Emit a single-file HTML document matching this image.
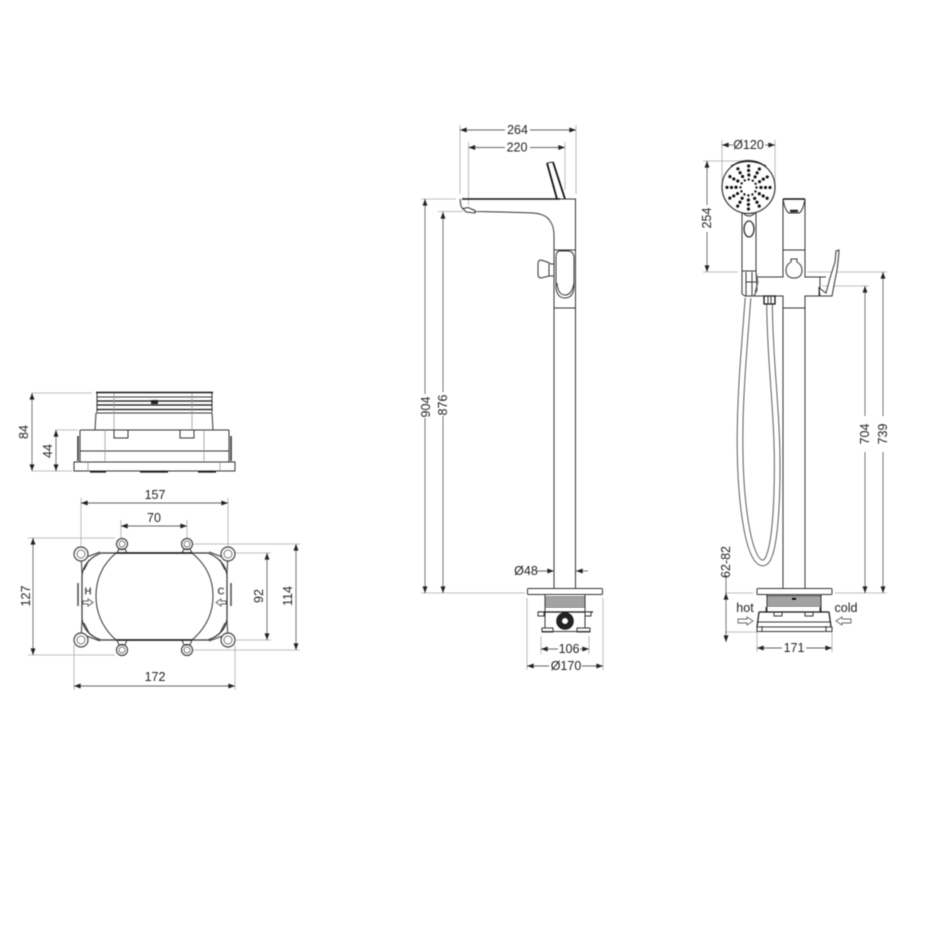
<!DOCTYPE html>
<html><head><meta charset="utf-8"><style>
html,body{margin:0;padding:0;background:#fff;width:950px;height:950px;overflow:hidden}
svg{display:block;filter:blur(.5px)}
text{font-family:"Liberation Sans",sans-serif;font-size:12.5px;fill:#222;text-anchor:middle;dominant-baseline:central}
.d{stroke:#666;stroke-width:.9;fill:none}
.e{stroke:#aaa;stroke-width:.8;fill:none}
.k{stroke:#333;stroke-width:1;fill:#fff}
.n{stroke:#333;stroke-width:1;fill:none}
.b{stroke:#111;stroke-width:1.6;fill:none}
.l{stroke:#999;stroke-width:.8;fill:none}
</style></head><body>
<svg width="950" height="950" viewBox="0 0 950 950" xmlns="http://www.w3.org/2000/svg">
<defs>
<marker id="a" viewBox="0 0 8 6" refX="8" refY="3" markerWidth="7" markerHeight="5" orient="auto-start-reverse" markerUnits="userSpaceOnUse"><path d="M0 0L8 3L0 6z" fill="#222"/></marker>
</defs>

<!-- LEFT: top view of box -->
<g>
<path class="e" d="M32 393H92M55 430H78M32 471H72"/>
<path class="d" d="M32 393V471" marker-start="url(#a)" marker-end="url(#a)"/>
<path class="d" d="M56 430V471" marker-start="url(#a)" marker-end="url(#a)"/>
<text transform="rotate(-90 24 432)" x="24" y="432">84</text>
<text transform="rotate(-90 48 451)" x="48" y="451">44</text>

<path class="b" d="M96 392.500H213"/>
<path class="n" d="M97 393V412M212 393V412"/>
<path class="n" d="M97 397H212"/>
<path class="b" style="stroke-width:1.2" d="M97 401H212M97 405H212M97 409.500H212"/>
<rect x="151" y="400" width="7" height="4" fill="#222"/>
<path class="n" d="M96 413H212L213 430M96 413L95 430"/>
<path class="l" d="M114 393V430M192 393V430"/>
<path class="n" d="M80 430H229M80 430V462M229 430V462"/>
<path class="n" style="stroke-width:1.6" d="M78 436V461M231 436V461"/>
<path class="n" d="M114 430V438H128V430M180 430V438H194V430"/>
<path class="n" d="M80 451H229"/>
<path class="l" d="M105 430V461M204 430V461"/>
<path class="k" d="M74 462H235V471H74z"/>
<path class="n" d="M80 462H105M204 462H229"/>
<path class="b" style="stroke-width:1.2" d="M90 472H106M140 472H168M198 472H216"/>
<path class="l" d="M88 462V471M220 462V471"/>
</g>

<!-- LEFT: plan view -->
<g>
<path class="e" d="M81 498V546M228 498V546M121 520V538M187 520V538M28 538H115M28 655H115M193 544H300M193 650H300M234 553H271M234 640H271M74 645V690M235 645V690"/>
<path class="d" d="M81 503H228" marker-start="url(#a)" marker-end="url(#a)"/>
<path class="d" d="M121 526H187" marker-start="url(#a)" marker-end="url(#a)"/>
<path class="d" d="M33 538V655" marker-start="url(#a)" marker-end="url(#a)"/>
<path class="d" d="M296 544V650" marker-start="url(#a)" marker-end="url(#a)"/>
<path class="d" d="M267 553V640" marker-start="url(#a)" marker-end="url(#a)"/>
<path class="d" d="M74 686H235" marker-start="url(#a)" marker-end="url(#a)"/>
<text x="155" y="495">157</text>
<text x="154" y="518">70</text>
<text x="155" y="677">172</text>
<text transform="rotate(-90 26 596)" x="26" y="596">127</text>
<text transform="rotate(-90 288 596)" x="288" y="596">114</text>
<text transform="rotate(-90 259 596)" x="259" y="596">92</text>

<path class="n" style="stroke-width:1.2" d="M82 575Q84 560 101 553H208Q225 560 227 575V619Q225 634 208 640H101Q84 634 82 619z"/>
<path class="b" style="stroke-width:1.4" d="M116 553H192M116 640H192"/>
<path class="n" d="M116 553Q96 570 96 596Q96 622 116 640M192 553Q213 570 213 596Q213 622 192 640"/>
<path class="b" style="stroke-width:1.6;stroke:#555" d="M78 583V606M231 583V606"/>
<path class="n" d="M81 553L82 574M228 553L227 574M81 640L82 620M228 640L227 620"/>
<path class="n" d="M84 558L100 552M89 560L84 570M225 558L209 552M220 560L225 570M84 635L100 641M89 633L84 623M225 635L209 641M220 633L225 623"/>
<g stroke="#444" stroke-width="1.2" fill="#fff">
<circle cx="81" cy="554" r="7"/><circle cx="228" cy="554" r="7"/><circle cx="81" cy="640" r="7"/><circle cx="228" cy="640" r="7"/>
<circle cx="122" cy="544" r="5.500"/><circle cx="187" cy="544" r="5.500"/><circle cx="122" cy="650" r="5.500"/><circle cx="187" cy="650" r="5.500"/>
</g>
<g stroke="#777" stroke-width="1" fill="none">
<circle cx="81" cy="554" r="4"/><circle cx="228" cy="554" r="4"/><circle cx="81" cy="640" r="4"/><circle cx="228" cy="640" r="4"/>
<circle cx="122" cy="544" r="3"/><circle cx="187" cy="544" r="3"/><circle cx="122" cy="650" r="3"/><circle cx="187" cy="650" r="3"/>
</g>
<path class="n" d="M117 553L119 549H125L127 553M182 553L184 549H190L192 553M117 640L119 645H125L127 640M182 640L184 645H190L192 640"/>
<text x="88" y="592" style="font-size:10px;font-weight:bold;fill:#555">H</text>
<text x="221" y="592" style="font-size:10px;font-weight:bold;fill:#555">C</text>
<path class="n" style="stroke:#666" d="M83 601H88V599L93 602.500L88 606V604H83zM226 601H221V599L216 602.500L221 606V604H226z"/>
</g>

<!-- CENTER: side view -->
<g>
<path class="e" d="M460 125V194M576 125V194M468.500 142V205M565 142V190M421 199H456M438 211.500H463M421 593H525M541 636V654M589 636V654M527 598V670M603 598V670"/>
<path class="d" d="M460 130H505" marker-start="url(#a)"/>
<path class="d" d="M530 130H576" marker-end="url(#a)"/>
<path class="d" d="M468.500 147.500H505" marker-start="url(#a)"/>
<path class="d" d="M530 147.500H565" marker-end="url(#a)"/>
<text x="517.500" y="130">264</text>
<text x="517" y="147.500">220</text>

<path class="d" d="M425 199V394" marker-start="url(#a)"/>
<path class="d" d="M425 418V593" marker-end="url(#a)"/>
<path class="d" d="M443 212V392" marker-start="url(#a)"/>
<path class="d" d="M443 416V593" marker-end="url(#a)"/>
<text transform="rotate(-90 426 407)" x="426" y="407">904</text>
<text transform="rotate(-90 443 405)" x="443" y="405">876</text>

<!-- lever -->
<path class="b" style="stroke-width:1.8" d="M547 163L557 199M553 162L565 199"/>
<path class="n" d="M547 163L553 162"/>
<path class="b" style="stroke-width:1.6" d="M462 199H560"/>
<path class="n" d="M560 199H575.500V308"/>
<path class="n" d="M460 199L461 206Q462 209 465 210L475 211.500Q510 212 533 213Q546 214 550 221Q554 226 554 236V250"/>
<path class="k" d="M463 208.500L468 207.500L475 210.500V213L466 212z"/>
<path class="n" d="M554 250V588M575.500 250V588"/>
<path class="n" d="M554 308H575.500"/>
<path class="n" d="M554 250H575.500"/>
<path class="k" d="M560 251H569Q574 252 574 258L574 285Q574 298 565 298Q557 298 556 288V257Q556 251 560 251z"/>
<path class="n" d="M557 283Q558 295 565 295Q572 295 574 283"/>
<path class="k" d="M541 260L547 262L551 264H554V276H549L541 278Q538 278 538 274V264Q538 260 541 260z"/>
<path class="n" d="M549 264V276"/>

<path class="d" d="M536 571H554" marker-end="url(#a)"/>
<path class="d" d="M588 571H576" marker-end="url(#a)"/>
<text x="526" y="571">Ø48</text>

<rect class="k" x="527.500" y="588.500" width="75" height="6" rx="1"/>
<path class="n" d="M545 595V628M585 595V628"/>
<g stroke="#444" stroke-width="1"><path d="M545 597H585M545 599H585M545 601H585M545 603H585M545 605H585M545 607H585"/></g>
<path class="b" style="stroke-width:1.200" d="M538 612H593"/>
<path class="k" d="M538 612H544V616H538zM585 612H591V616H585z"/>
<path class="k" d="M542 628H553V632H542zM577 628H590V632H577z"/>
<path class="n" d="M542 631.500H590"/>
<circle cx="565" cy="621" r="8.300" fill="#222" stroke="#222"/>
<circle cx="565" cy="621" r="3.500" fill="#fff" stroke="#222"/>
<path class="d" d="M541 649H558" marker-start="url(#a)"/>
<path class="d" d="M580 649H589" marker-end="url(#a)"/>
<text x="569" y="649">106</text>
<path class="d" d="M527 666H549" marker-start="url(#a)"/>
<path class="d" d="M582 666H603" marker-end="url(#a)"/>
<text x="566" y="666">Ø170</text>
</g>

<!-- RIGHT: front view -->
<g>
<path class="e" d="M722 140V185M775 140V185M703 161H745M703 272H738M807 272H887M822 286H869M725 593H753M835 593H887M725 632H757M757 632V652M832 632V652"/>
<path class="d" d="M722 145H733" marker-start="url(#a)"/>
<path class="d" d="M765 145H775" marker-end="url(#a)"/>
<text x="748.500" y="145">Ø120</text>
<path class="d" d="M707 161V205" marker-start="url(#a)"/>
<path class="d" d="M707 232V272" marker-end="url(#a)"/>
<text transform="rotate(-90 707 218)" x="707" y="218">254</text>

<path class="d" d="M865 286V416" marker-start="url(#a)"/>
<path class="d" d="M865 452V593" marker-end="url(#a)"/>
<path class="d" d="M883 272V416" marker-start="url(#a)"/>
<path class="d" d="M883 452V593" marker-end="url(#a)"/>
<text transform="rotate(-90 865 434)" x="865" y="434">704</text>
<text transform="rotate(-90 883 434)" x="883" y="434">739</text>

<!-- hose -->
<path d="M748 298C745 340 740 390 740 440C740 500 748 563 763 563C774 563 778 510 777 450C776 400 770 360 769.500 304" fill="none" stroke="#444" stroke-width="6.500"/>
<path d="M748 298C745 340 740 390 740 440C740 500 748 563 763 563C774 563 778 510 777 450C776 400 770 360 769.500 304" fill="none" stroke="#fff" stroke-width="4.800"/>

<!-- shower head -->
<path class="n" d="M742 213V275M756 213V275"/>
<path class="n" d="M743 213Q749 219 755 213"/>
<ellipse class="n" cx="749" cy="229" rx="5" ry="8" style="stroke-width:1.300"/>
<circle cx="748.500" cy="187" r="26.500" fill="#fff" stroke="#333" stroke-width="1.200"/>
<path class="b" d="M731 166Q748 157 766 166" style="stroke-width:1"/>
<g fill="none" stroke="#111" stroke-width="3.200" stroke-linecap="round">
<circle cx="748.500" cy="187.500" r="21.500" stroke-dasharray="0 11.257"/>
<circle cx="748.500" cy="187.500" r="17" stroke-dasharray="0 8.901"/>
<circle cx="748.500" cy="187.500" r="12.500" stroke-dasharray="0 6.545"/>
<circle cx="748.500" cy="187.500" r="8" stroke-dasharray="0 4.189" stroke-width="2.400"/>
</g>

<!-- body -->
<path class="n" d="M783 199V277H754M805 199V277H826"/>
<path class="b" style="stroke-width:1.500" d="M783 199H805"/>
<path class="n" d="M783 199Q785 211 789 213H799Q803 211 805 199"/>
<path d="M790 211H798" stroke="#222" stroke-width="2.500"/>
<path class="n" d="M783 250H805"/>
<path class="k" d="M791 259V262Q786 265 786 270Q786 278 794 278Q802 278 802 270Q802 265 797 262V259z"/>
<path class="n" d="M754 296H783V588M805 588V296H820V277"/>
<path class="n" d="M783 308H805"/>
<path class="n" d="M819 287V296L826 296"/>
<path class="k" d="M836 251L839 250Q838 268 835 280L832 296H820L819 288L826 293L830 278L835 262z"/>
<path class="k" d="M742 271H756L757 290L754 296H745L742 294z"/>
<path class="n" d="M746 272V296M752 272V296M746 282H756"/>
<path d="M756 272L758 282L755 292" fill="none" stroke="#555"/>
<path class="k" d="M764 296H775V304H764z" style="stroke:#111;stroke-width:1.300"/>
<path class="n" d="M768 296V304M771 296V304"/>

<!-- base -->
<rect class="k" x="757" y="588.500" width="75" height="6" rx="1"/>
<path class="n" d="M767 595V612M821 595V612"/>
<g stroke="#444" stroke-width=".9"><path d="M767 596H821M767 598H821M767 600H821M767 602H821M767 604H821M767 606H821"/></g>
<path class="b" d="M767 596H821" style="stroke-width:1"/>
<rect x="792" y="597.500" width="4" height="2" fill="#111"/>
<path class="n" d="M766 607V612M820 607V612"/>
<path class="b" style="stroke-width:1.200" d="M759 612H829M759 612L757 627M829 612L831 627"/>
<path class="n" d="M774 612V616H782V612M805 612V616H813V612M758 622H830"/>
<path class="k" d="M757 627H832V631.500H757z"/>
<path class="n" d="M762 626V631M826 626V631"/>
<path class="d" d="M726 575V593"/>
<path class="d" d="M726 593V642" marker-start="url(#a)" marker-end="url(#a)"/>
<text transform="rotate(-90 726 562)" x="726" y="562">62-82</text>
<text x="745" y="608">hot</text>
<text x="846" y="608">cold</text>
<path stroke="#666" fill="#fff" stroke-width=".9" d="M738 619H747V617L753 621L747 625V623H738zM851 619H842V617L836 621L842 625V623H851z"/>
<path class="d" d="M757 648H782" marker-start="url(#a)"/>
<path class="d" d="M806 648H832" marker-end="url(#a)"/>
<text x="794" y="648">171</text>
</g>
</svg>
</body></html>
